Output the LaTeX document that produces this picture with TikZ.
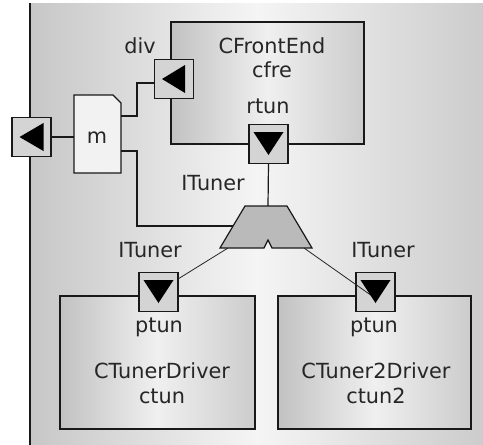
\documentclass[tikz,border=0pt]{standalone}
\usepackage{fontspec}
\setmainfont{DejaVu Sans}
\begin{document}
\begin{tikzpicture}[x=1pt,y=-1pt,
  every node/.style={inner sep=0pt,outer sep=0pt},
  txt/.style={anchor=base,text=black!85,font=\fontsize{20.8}{24}\selectfont},
  comp/.style={draw=black!90,line width=1.3pt,left color=black!24,right color=black!20,middle color=black!6,rectangle},
  port/.style={draw=black!90,line width=1.3pt,fill=black!17,rectangle,minimum width=39pt,minimum height=39pt},
  tri/.style={fill=black},
  conn/.style={draw=black!90,line width=1.2pt},
  thin/.style={draw=black!85,line width=0.8pt}]
\useasboundingbox (0,0) rectangle (483,445);
% background
\shade[left color=black!22,right color=black!20,middle color=black!4] (30,3) rectangle (483,445);
\draw[line width=1.6pt,black!90] (30,3) -- (30,445);
% components
\node[comp,minimum width=193pt,minimum height=122pt] (cfe) at (267.5,83) {};
\node[comp,minimum width=195pt,minimum height=133pt] (ctd1) at (157.5,362.5) {};
\node[comp,minimum width=193pt,minimum height=133pt] (ctd2) at (374.5,362.5) {};
% m
\node[minimum width=47pt,minimum height=78pt] (m) at (97.5,134) {};
\draw[draw=black!90,line width=1.3pt,fill=black!5] (m.south west) -- (m.north west) -- ([xshift=-8pt]m.north east) -- ([yshift=-8pt]m.north east) -- (m.south east) -- cycle;
% trapezoid coordinates
\coordinate (tzTop) at (268,206);
\coordinate (tzL) at (233,226);
\coordinate (tzBL) at (228,248);
\coordinate (tzBR) at (304,248);
% ports
\node[port] (leftP) at (31.5,137) {};
\node[port] (divP) at (174,79) {};
\node[port] (rtunP) at (268.5,144) {};
\node[port] (ptun1) at (158.5,292) {};
\node[port] (ptun2) at (375.5,292) {};
% connectors
\draw[conn] (leftP.east) -- (leftP.east -| m.west);
\draw[conn] (m.east |- 0,116) -- (137,116) |- (divP.west |- 0,83);
\draw[conn] (m.east |- 0,151) -- (137,151) |- (tzL);
\draw[conn] (rtunP.south) -- (tzTop);
\draw[thin] (tzBL) -- (ptun1.north east |- 0,279);
\draw[thin] (tzBR) -- ([xshift=-2pt,yshift=-5pt]ptun2.center);
% trapezoid
\fill[black!27] (245,206) -- (287,206) -- (312,248) -- (272,248) -- (268,240) -- (264,248) -- (220,248) -- cycle;
\draw[draw=black!90,line width=1.2pt] (245,206) -- (287,206) -- (312,248) -- (272,248) -- (268,240) -- (264,248) -- (220,248) -- cycle;
% triangles
\fill[tri] ([xshift=-12pt]leftP.center) -- ([xshift=12pt,yshift=14pt]leftP.center) -- ([xshift=12pt,yshift=-14pt]leftP.center) -- cycle;
\fill[tri] ([xshift=-12pt]divP.center) -- ([xshift=11pt,yshift=14pt]divP.center) -- ([xshift=11pt,yshift=-14pt]divP.center) -- cycle;
\fill[tri] ([yshift=-11pt]rtunP.center) -- ([xshift=15pt,yshift=12pt]rtunP.center) -- ([xshift=-15pt,yshift=12pt]rtunP.center) -- cycle;
\fill[tri] ([yshift=-11pt]ptun1.center) -- ([xshift=15pt,yshift=12pt]ptun1.center) -- ([xshift=-15pt,yshift=12pt]ptun1.center) -- cycle;
\fill[tri] ([yshift=-11pt]ptun2.center) -- ([xshift=15pt,yshift=12pt]ptun2.center) -- ([xshift=-15pt,yshift=12pt]ptun2.center) -- cycle;
% texts
\node[txt] (tdiv) at (140,53) {div};
\node[txt] (tcfe) at (272,53) {CFrontEnd};
\node[txt] (tcfre) at (272,77) {cfre};
\node[txt] (trtun) at (268,113) {rtun};
\node[txt] (tm) at (97,143) {m};
\node[txt] (tit0) at (213,190) {ITuner};
\node[txt] (tit1) at (150,257) {ITuner};
\node[txt] (tit2) at (383,257) {ITuner};
\node[txt] (tpt1) at (159,332) {ptun};
\node[txt] (tpt2) at (374,332) {ptun};
\node[txt] (tctd1) at (162,378) {CTunerDriver};
\node[txt] (tctun) at (162,403) {ctun};
\node[txt] (tctd2) at (376,378) {CTuner2Driver};
\node[txt] (tctun2) at (376,403) {ctun2};
\end{tikzpicture}
\end{document}
